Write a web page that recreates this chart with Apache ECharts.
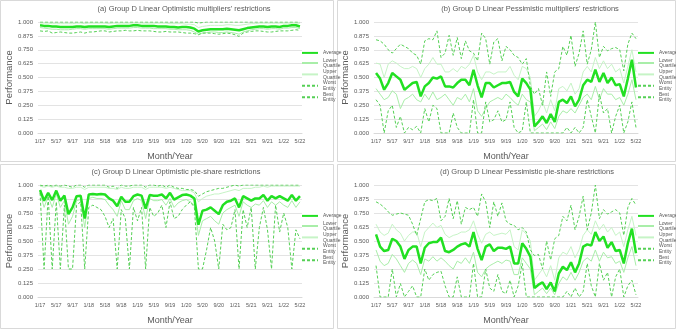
<!DOCTYPE html>
<html>
<head>
<meta charset="utf-8">
<script src="https://cdn.jsdelivr.net/npm/echarts@6/dist/echarts.min.js"></script>
<style>
html, body { margin: 0; padding: 0; background: #fff; }
#box1 { width: 676px; height: 329px; }
</style>
</head>
<body>
<div id="box1"></div>
<script>
var months = ['1/17','2/17','3/17','4/17','5/17','6/17','7/17','8/17','9/17','10/17','11/17','12/17',
    '1/18','2/18','3/18','4/18','5/18','6/18','7/18','8/18','9/18','10/18','11/18','12/18',
    '1/19','2/19','3/19','4/19','5/19','6/19','7/19','8/19','9/19','10/19','11/19','12/19',
    '1/20','2/20','3/20','4/20','5/20','6/20','7/20','8/20','9/20','10/20','11/20','12/20',
    '1/21','2/21','3/21','4/21','5/21','6/21','7/21','8/21','9/21','10/21','11/21','12/21',
    '1/22','2/22','3/22','4/22','5/22'];
var yTicks = [0, 0.125, 0.25, 0.375, 0.5, 0.625, 0.75, 0.875, 1];

// (a) optimistic multipliers
var aAvg = [0.97,0.965,0.965,0.96,0.96,0.955,0.955,0.955,0.955,0.96,0.96,0.955,0.96,0.96,0.96,0.96,0.96,0.955,0.96,0.965,0.965,0.965,0.965,0.97,0.97,0.965,0.965,0.965,0.965,0.96,0.96,0.96,0.955,0.955,0.95,0.955,0.955,0.95,0.94,0.915,0.925,0.93,0.935,0.935,0.935,0.935,0.94,0.935,0.93,0.925,0.935,0.945,0.95,0.955,0.96,0.96,0.955,0.96,0.96,0.955,0.965,0.965,0.97,0.97,0.96];
var aLow = [0.95,0.945,0.94,0.935,0.935,0.93,0.93,0.93,0.935,0.94,0.94,0.935,0.94,0.94,0.94,0.94,0.94,0.935,0.94,0.945,0.945,0.945,0.945,0.95,0.95,0.945,0.945,0.945,0.94,0.94,0.94,0.94,0.935,0.935,0.93,0.93,0.93,0.925,0.91,0.89,0.9,0.905,0.91,0.91,0.905,0.905,0.91,0.905,0.9,0.89,0.91,0.92,0.93,0.935,0.94,0.94,0.935,0.94,0.94,0.935,0.945,0.945,0.95,0.95,0.94];
var aUp = [0.99,0.99,0.99,0.985,0.985,0.985,0.985,0.985,0.985,0.99,0.99,0.985,0.99,0.99,0.99,0.99,0.99,0.985,0.99,0.99,0.99,0.99,0.99,0.99,0.99,0.99,0.99,0.99,0.99,0.99,0.99,0.99,0.985,0.985,0.985,0.985,0.98,0.98,0.975,0.95,0.96,0.965,0.97,0.97,0.97,0.97,0.975,0.975,0.97,0.97,0.975,0.98,0.985,0.985,0.99,0.99,0.99,0.99,0.99,0.99,0.99,0.99,0.99,0.99,0.99];
var aWorst = [0.92,0.915,0.92,0.9,0.905,0.91,0.905,0.9,0.9,0.905,0.91,0.9,0.91,0.91,0.915,0.92,0.92,0.91,0.915,0.92,0.92,0.925,0.92,0.92,0.925,0.92,0.92,0.92,0.915,0.91,0.91,0.915,0.91,0.91,0.91,0.905,0.9,0.9,0.895,0.885,0.9,0.9,0.9,0.895,0.89,0.895,0.9,0.895,0.885,0.87,0.9,0.91,0.915,0.92,0.92,0.915,0.91,0.91,0.915,0.92,0.92,0.92,0.925,0.93,0.925];
var aBest = [1,1,1,1,1,1,1,1,1,1,1,1,1,1,1,1,1,1,1,1,1,1,1,1,1,1,1,1,1,1,1,1,1,1,1,1,1,1,1,0.99,0.995,1,1,1,1,1,1,1,1,1,1,1,1,1,1,1,1,1,1,1,1,1,1,1,1];

// (b) pessimistic multipliers
var bAvg = [0.54,0.49,0.39,0.45,0.54,0.51,0.48,0.39,0.42,0.45,0.46,0.33,0.42,0.45,0.50,0.49,0.51,0.42,0.42,0.41,0.45,0.48,0.48,0.43,0.57,0.43,0.32,0.45,0.45,0.41,0.43,0.45,0.45,0.46,0.37,0.33,0.49,0.45,0.39,0.06,0.10,0.15,0.09,0.17,0.10,0.28,0.30,0.27,0.33,0.24,0.30,0.43,0.48,0.46,0.57,0.46,0.54,0.45,0.50,0.43,0.44,0.33,0.49,0.66,0.41];
var bLow = [0.40,0.35,0.30,0.32,0.38,0.35,0.22,0.30,0.32,0.35,0.30,0.28,0.35,0.30,0.37,0.30,0.32,0.35,0.30,0.25,0.32,0.30,0.35,0.28,0.40,0.20,0.15,0.22,0.28,0.30,0.32,0.30,0.35,0.32,0.28,0.25,0.35,0.30,0.28,0.02,0.05,0.08,0.03,0.10,0.04,0.15,0.20,0.18,0.22,0.18,0.25,0.32,0.35,0.30,0.42,0.30,0.40,0.35,0.35,0.30,0.32,0.25,0.35,0.48,0.30];
var bUp = [0.63,0.62,0.50,0.62,0.65,0.63,0.60,0.58,0.58,0.60,0.58,0.50,0.58,0.62,0.68,0.62,0.62,0.55,0.55,0.58,0.55,0.60,0.58,0.62,0.70,0.55,0.48,0.55,0.55,0.53,0.55,0.55,0.55,0.60,0.52,0.48,0.60,0.58,0.50,0.15,0.20,0.28,0.18,0.30,0.20,0.40,0.42,0.38,0.45,0.35,0.40,0.55,0.60,0.55,0.68,0.58,0.65,0.58,0.62,0.55,0.58,0.45,0.60,0.75,0.55];
var bWorst = [0.30,0.25,0,0.20,0.25,0.05,0.15,0,0.05,0.03,0.06,0,0.22,0.10,0.25,0.22,0,0,0,0.18,0.05,0,0,0,0.30,0,0,0.28,0.10,0.12,0.20,0.10,0.12,0.28,0.05,0,0.02,0.28,0,0,0,0,0,0,0,0,0,0.05,0,0.05,0,0.05,0.30,0.15,0,0.35,0.18,0.22,0,0.15,0.25,0,0.10,0.28,0.05];
var bBest = [0.84,0.83,0.80,0.75,0.72,0.76,0.80,0.78,0.76,0.72,0.70,0.62,0.83,0.85,0.84,0.92,0.68,0.72,0.88,0.70,0.86,0.67,0.83,0.74,0.72,0.65,0.90,0.85,0.62,0.82,0.85,0.65,0.78,0.75,0.70,0.68,0.62,0.67,0.42,0.35,0.40,0.25,0.55,0.33,0.55,0.58,0.78,0.70,0.88,0.60,0.72,0.92,0.62,0.75,1.00,0.68,0.78,0.74,0.76,0.77,0.75,0.56,0.80,0.90,0.85];

// (c) optimistic pie-share
var cAvg = [0.955,0.86,0.93,0.865,0.95,0.86,0.905,0.74,0.80,0.90,0.905,0.70,0.915,0.92,0.915,0.92,0.915,0.88,0.86,0.81,0.895,0.85,0.85,0.90,0.915,0.905,0.79,0.91,0.905,0.905,0.915,0.88,0.93,0.87,0.89,0.91,0.915,0.905,0.88,0.645,0.77,0.78,0.80,0.77,0.74,0.82,0.85,0.86,0.88,0.80,0.90,0.88,0.86,0.88,0.88,0.91,0.86,0.90,0.88,0.90,0.88,0.86,0.91,0.86,0.90];
var cLow = [0.93,0.80,0.90,0.80,0.92,0.80,0.86,0.65,0.72,0.86,0.87,0.62,0.88,0.89,0.88,0.88,0.87,0.82,0.78,0.72,0.86,0.78,0.78,0.86,0.88,0.86,0.70,0.88,0.86,0.86,0.87,0.82,0.88,0.80,0.84,0.86,0.87,0.85,0.82,0.55,0.68,0.70,0.72,0.68,0.65,0.75,0.78,0.80,0.82,0.72,0.85,0.82,0.80,0.83,0.82,0.86,0.80,0.85,0.82,0.85,0.82,0.80,0.86,0.80,0.85];
var cUp = [0.99,0.98,0.99,0.98,0.99,0.98,0.98,0.97,0.97,0.98,0.98,0.96,0.98,0.98,0.98,0.98,0.98,0.97,0.97,0.96,0.98,0.97,0.97,0.98,0.98,0.98,0.96,0.98,0.98,0.98,0.98,0.97,0.98,0.97,0.96,0.95,0.95,0.95,0.93,0.85,0.88,0.90,0.91,0.92,0.92,0.93,0.94,0.95,0.96,0.95,0.97,0.97,0.97,0.98,0.98,0.99,0.98,0.99,0.99,0.99,0.99,0.99,0.99,0.99,0.99];
var cWorst = [0.93,0.25,0.90,0.25,0.85,0.25,0.82,0.25,0.25,0.82,0.85,0.25,0.80,0.82,0.80,0.78,0.72,0.62,0.70,0.25,0.78,0.70,0.25,0.80,0.68,0.80,0.25,0.80,0.72,0.75,0.82,0.62,0.85,0.70,0.72,0.78,0.82,0.85,0.80,0.25,0.25,0.42,0.62,0.50,0.25,0.65,0.60,0.62,0.78,0.25,0.78,0.62,0.80,0.25,0.62,0.80,0.60,0.25,0.82,0.58,0.75,0.62,0.25,0.60,0.52];
var cBest = [1,0.99,1,0.99,1,0.99,1,0.99,0.98,1,1,0.98,1,1,1,1,1,0.98,0.99,0.97,1,0.99,0.99,1,1,1,0.98,1,1,0.99,1,0.98,1,0.98,0.97,0.97,0.96,0.96,0.95,0.90,0.92,0.94,0.95,0.96,0.97,0.97,0.98,0.99,1,0.99,1,1,1,1,1,1,1,1,1,1,1,1,1,1,1];

// (d) pessimistic pie-share
var dAvg = [0.56,0.45,0.41,0.42,0.52,0.50,0.45,0.34,0.42,0.45,0.45,0.30,0.44,0.48,0.49,0.49,0.53,0.41,0.40,0.42,0.45,0.47,0.48,0.45,0.58,0.43,0.33,0.45,0.47,0.41,0.44,0.44,0.43,0.45,0.30,0.30,0.48,0.43,0.36,0.08,0.11,0.13,0.07,0.13,0.05,0.21,0.27,0.24,0.31,0.22,0.30,0.45,0.47,0.46,0.58,0.50,0.54,0.44,0.49,0.41,0.42,0.30,0.48,0.61,0.39];
var dLow = [0.42,0.32,0.28,0.30,0.38,0.34,0.28,0.22,0.30,0.33,0.30,0.20,0.34,0.32,0.36,0.32,0.35,0.32,0.28,0.25,0.32,0.30,0.35,0.30,0.40,0.22,0.18,0.25,0.28,0.30,0.32,0.30,0.33,0.32,0.20,0.20,0.35,0.30,0.25,0.02,0.05,0.08,0.03,0.08,0.02,0.12,0.18,0.15,0.22,0.15,0.22,0.32,0.35,0.32,0.42,0.32,0.40,0.35,0.36,0.30,0.32,0.22,0.35,0.45,0.28];
var dUp = [0.65,0.58,0.55,0.57,0.65,0.60,0.57,0.50,0.55,0.58,0.58,0.45,0.58,0.62,0.66,0.62,0.64,0.56,0.53,0.55,0.56,0.58,0.58,0.60,0.68,0.56,0.48,0.56,0.58,0.55,0.56,0.57,0.56,0.60,0.45,0.42,0.60,0.56,0.50,0.15,0.20,0.25,0.18,0.28,0.15,0.35,0.40,0.38,0.45,0.35,0.42,0.55,0.60,0.56,0.68,0.60,0.65,0.58,0.62,0.55,0.58,0.45,0.60,0.72,0.55];
var dWorst = [0.28,0,0,0,0.25,0,0.12,0,0.05,0.10,0,0,0.25,0.15,0.20,0.22,0.23,0.10,0,0,0.18,0,0,0,0.30,0,0,0.25,0.08,0.05,0.20,0.05,0.03,0.15,0,0.10,0.30,0,0,0,0,0,0,0,0,0,0,0.05,0,0.08,0,0.05,0.30,0.10,0,0.30,0.15,0.22,0,0.18,0.25,0,0.10,0.15,0.02];
var dBest = [0.85,0.83,0.80,0.76,0.73,0.74,0.75,0.74,0.73,0.65,0.55,0.70,0.85,0.87,0.86,0.88,0.68,0.72,0.88,0.70,0.86,0.65,0.80,0.78,0.80,0.72,0.92,0.85,0.62,0.85,0.72,0.84,0.68,0.65,0.64,0.60,0.62,0.58,0.42,0.37,0.38,0.25,0.50,0.33,0.52,0.55,0.72,0.68,0.82,0.60,0.72,0.90,0.60,0.75,1.00,0.70,0.78,0.74,0.76,0.78,0.75,0.55,0.80,0.88,0.82];

var titles = ["(a) Group D Linear Optimistic multipliers' restrictions",
    "(b) Group D Linear Pessimistic multipliers' restrictions",
    "(c) Group D Linear Optimistic pie-share restrictions",
    "(d) Group D Linear Pessimistic pie-share restrictions"];
var panels = [
    [aAvg, aLow, aUp, aWorst, aBest],
    [bAvg, bLow, bUp, bWorst, bBest],
    [cAvg, cLow, cUp, cWorst, cBest],
    [dAvg, dLow, dUp, dWorst, dBest]
];
var names = ['Average', 'Lower Quartile', 'Upper Quartile', 'Worst Entity', 'Best Entity'];
var styles = [
    {color: '#22e022', width: 2.5, type: 'solid'},
    {color: '#a9eea9', width: 1, type: 'solid'},
    {color: '#c6f4c6', width: 1, type: 'solid'},
    {color: '#55d055', width: 1, type: [3, 2]},
    {color: '#55d055', width: 1, type: [3, 2]}
];

// panel boxes: x, y, w, h
var boxes = [[0, 0, 334, 162], [337, 0, 339, 162], [0, 164, 334, 165], [337, 164, 339, 165]];
var gridPos = [[38, 22, 264, 111], [374, 22, 264, 111], [38, 185, 264, 112], [374, 185, 264, 112]];
var titleX = [184, 530, 176, 527];
var font = 'Liberation Sans';

var myChart = echarts.init(document.getElementById('box1'));

var grids = [], xAxes = [], yAxes = [], series = [], legends = [], graphics = [];
for (var p = 0; p < 4; p++) {
    var g = gridPos[p];
    grids.push({left: g[0], top: g[1], width: g[2], height: g[3]});
    xAxes.push({
        type: 'category', gridIndex: p, data: months, boundaryGap: true,
        name: 'Month/Year', nameLocation: 'middle', nameGap: 19,
        nameTextStyle: {fontFamily: font, fontSize: 9, color: '#595959'},
        axisLine: {lineStyle: {color: '#d9d9d9'}},
        axisTick: {show: false},
        axisLabel: {interval: 3, fontFamily: font, fontSize: 5.5, color: '#595959', margin: 5}
    });
    yAxes.push({
        type: 'value', gridIndex: p, min: 0, max: 1, interval: yTicks[1],
        name: 'Performance', nameLocation: 'middle', nameGap: 24,
        nameTextStyle: {fontFamily: font, fontSize: 9.5, color: '#595959'},
        axisLine: {show: false}, axisTick: {show: false},
        axisLabel: {fontFamily: font, fontSize: 6, color: '#595959', margin: 5,
            formatter: function (v) { return v.toFixed(3); }},
        splitLine: {lineStyle: {color: '#e3e3e3', width: 1}}
    });
    for (var s = 0; s < 5; s++) {
        series.push({
            name: names[s], type: 'line', xAxisIndex: p, yAxisIndex: p,
            data: panels[p][s], symbol: 'none', animation: false,
            lineStyle: styles[s], itemStyle: {color: styles[s].color},
            z: s === 0 ? 5 : 2
        });
    }
    legends.push({
        orient: 'vertical', left: g[0] + g[2] - 1, top: g[1] + 26.5, padding: 0,
        itemWidth: 16, itemHeight: 11, itemGap: 0,
        itemStyle: {opacity: 0},
        data: names,
        formatter: function (n) { return n.replace(' ', '\n'); },
        textStyle: {fontFamily: font, fontSize: 5, lineHeight: 5.7, color: '#595959'}
    });
    var b = boxes[p];
    graphics.push({
        type: 'rect', shape: {x: b[0] + 0.5, y: b[1] + 0.5, width: b[2] - 1, height: b[3] - 1},
        style: {fill: 'none', stroke: '#d9d9d9', lineWidth: 1}, silent: true
    });
    graphics.push({
        type: 'text', x: titleX[p], y: g[1] - 13,
        style: {text: titles[p], fontFamily: font, fontSize: 7.5, fill: '#595959',
            textAlign: 'center', textVerticalAlign: 'middle'}
    });
}

var option = {
    backgroundColor: '#fff',
    animation: false,
    grid: grids,
    xAxis: xAxes,
    yAxis: yAxes,
    legend: legends,
    series: series,
    graphic: graphics
};
myChart.setOption(option);
window.addEventListener('resize', function () {
    myChart.resize();
});
</script>
</body>
</html>
